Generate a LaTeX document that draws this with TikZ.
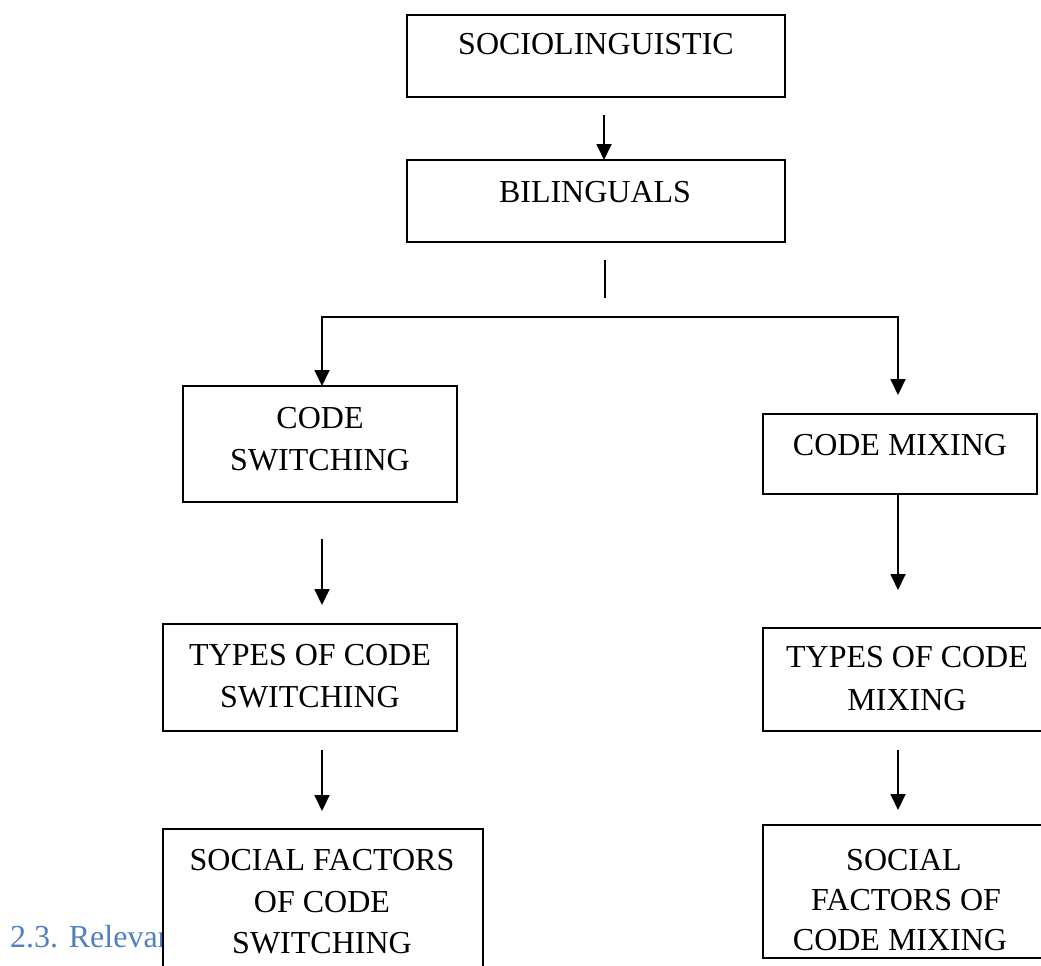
\documentclass[tikz,border=0pt]{standalone}
\usepackage{fontspec}
\setmainfont{Liberation Serif}
\usetikzlibrary{arrows.meta,calc}
\definecolor{headblue}{RGB}{79,129,189}
\begin{document}
\begin{tikzpicture}[x=1pt,y=-1pt,
  box/.style={draw,line width=1.6pt,fill=white,inner sep=0pt,outer sep=0pt},
  lbl/.style={anchor=base,inner sep=0pt,font=\fontsize{32}{42}\selectfont},
  tip/.tip={Triangle[length=16pt,width=15pt]},
  arr/.style={line width=1.8pt,-tip},
  ln/.style={line width=1.8pt}]
\useasboundingbox (0,0) rectangle (1041,966);
\clip (0,0) rectangle (1041,966);

% heading text partly hidden behind a box
\node[anchor=base west,inner sep=0pt,text=headblue,font=\fontsize{32}{42}\selectfont] (head) at (10,947) {2.3. Relevant};

% boxes
\node[box,minimum width=378pt,minimum height=82pt] (socio) at (596,56) {};
\node[box,minimum width=378pt,minimum height=82pt] (bil) at (596,201) {};
\node[box,minimum width=274pt,minimum height=116pt] (cs) at (320,444) {};
\node[box,minimum width=274pt,minimum height=80pt] (cm) at (900,454) {};
\node[box,minimum width=294pt,minimum height=107pt] (tcs) at (310,677.5) {};
\node[box,minimum width=288pt,minimum height=103pt] (tcm) at (907,679.5) {};
\node[box,minimum width=320pt,minimum height=161pt] (sfcs) at (323,909.5) {};
\node[box,minimum width=286pt,minimum height=133pt] (sfcm) at (906,891.5) {};

% texts
\node[lbl] (t1) at (596,55) {SOCIOLINGUISTIC};
\node[lbl] (t2) at (595,202) {BILINGUALS};
\node[lbl] (t3a) at (320,428) {CODE};
\node[lbl] (t3b) at (320,470) {SWITCHING};
\node[lbl] (t4) at (900,455) {CODE MIXING};
\node[lbl] (t5a) at (310,665) {TYPES OF CODE};
\node[lbl] (t5b) at (310,707) {SWITCHING};
\node[lbl] (t6a) at (907,667) {TYPES OF CODE};
\node[lbl] (t6b) at (907,710) {MIXING};
\node[lbl] (t7a) at (322,870) {SOCIAL FACTORS};
\node[lbl] (t7b) at (322,912) {OF CODE};
\node[lbl] (t7c) at (322,953) {SWITCHING};
\node[lbl] (t8a) at (904,870) {SOCIAL};
\node[lbl] (t8b) at (906,910) {FACTORS OF};
\node[lbl] (t8c) at (900,950) {CODE MIXING};

% connectors
\draw[arr] ($(socio.south)+(8,18)$) -- ($(bil.north)+(8,0)$);
\draw[ln] ($(bil.south)+(9,18)$) -- ($(bil.south)+(9,56)$);
\coordinate (split) at ($(bil.south)+(9,75)$);
\draw[line width=1.8pt,tip-tip]
  ($(cs.north)+(2,0)$) -- (split -| {$(cs.north)+(2,0)$}) -- (split -| {$(cm.north)+(-2,0)$}) -- ($(cm.north)+(-2,-19)$);
\draw[arr] ($(cs.south)+(2,37)$) -- ($(tcs.north)+(12,-19)$);
\draw[arr] ($(cm.south)+(-2,0)$) -- ($(tcm.north)+(-9,-38)$);
\draw[arr] ($(tcs.south)+(12,19)$) -- ($(sfcs.north)+(-1,-18)$);
\draw[arr] ($(tcm.south)+(-9,19)$) -- ($(sfcm.north)+(-8,-15)$);
\end{tikzpicture}
\end{document}
